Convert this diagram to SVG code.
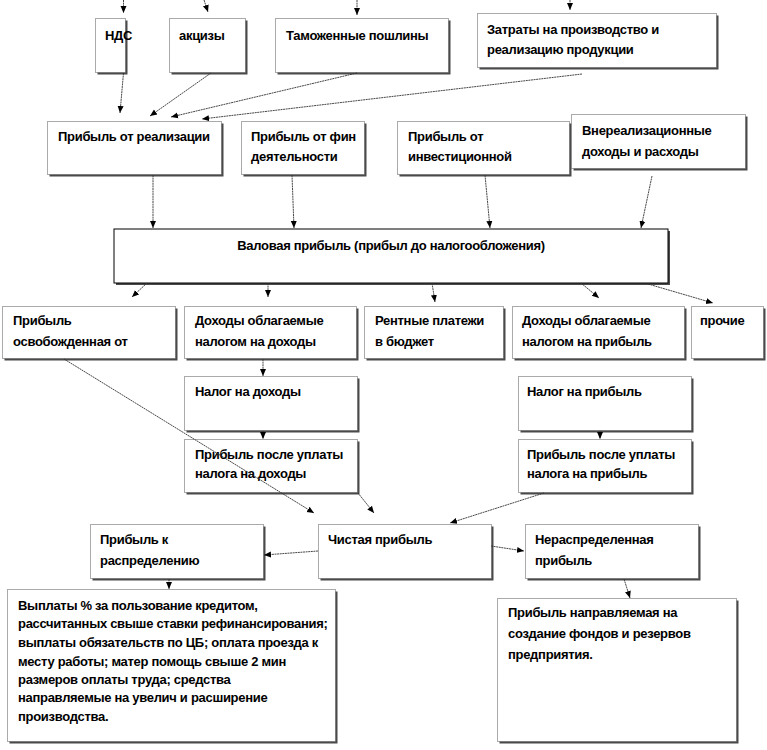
<svg xmlns="http://www.w3.org/2000/svg" width="767" height="750" viewBox="0 0 767 750">
<style>
.sh{fill:#4a4a4a}
.bx{fill:#fff;stroke:#555;stroke-width:1;stroke-dasharray:1 1}
.t{font-family:"Liberation Sans",Arial,sans-serif;font-size:13px;font-weight:bold;fill:#000;letter-spacing:-0.3px}
.c line{stroke:#333;stroke-width:0.9;stroke-dasharray:2 0.6}
</style>
<defs>
<marker id="a" markerWidth="8" markerHeight="8" refX="7" refY="4" orient="auto" markerUnits="userSpaceOnUse">
<path d="M0,1 L7,4 L0,7 Z" fill="#000"/>
</marker>
</defs>
<rect width="767" height="750" fill="#fff"/>

<g id="n-nds"><rect class="sh" x="97.5" y="20.5" width="30" height="54"/><rect class="bx" x="95.5" y="18.5" width="30" height="54"/><text class="t" x="105" y="39.5">НДС</text></g>
<g id="n-akcizy"><rect class="sh" x="171.5" y="20.5" width="76" height="54"/><rect class="bx" x="169.5" y="18.5" width="76" height="54"/><text class="t" x="179" y="39.5">акцизы</text></g>
<g id="n-tam"><rect class="sh" x="277.5" y="20.5" width="173" height="54"/><rect class="bx" x="275.5" y="18.5" width="173" height="54"/><text class="t" x="286" y="39.5">Таможенные пошлины</text></g>
<g id="n-zatr"><rect class="sh" x="479.5" y="15.5" width="239" height="54"/><rect class="bx" x="477.5" y="13.5" width="239" height="54"/><text class="t" x="487" y="33.5">Затраты на производство и</text><text class="t" x="487" y="53.5">реализацию продукции</text></g>

<g id="n-real"><rect class="sh" x="49.5" y="123.5" width="174" height="53"/><rect class="bx" x="47.5" y="121.5" width="174" height="53"/><text class="t" x="58" y="140.5">Прибыль от реализации</text></g>
<g id="n-fin"><rect class="sh" x="243.5" y="123.5" width="123" height="53"/><rect class="bx" x="241.5" y="121.5" width="123" height="53"/><text class="t" x="251" y="140.5">Прибыль от фин</text><text class="t" x="251" y="161">деятельности</text></g>
<g id="n-inv"><rect class="sh" x="399.5" y="123.5" width="172" height="53"/><rect class="bx" x="397.5" y="121.5" width="172" height="53"/><text class="t" x="408" y="140.5">Прибыль от</text><text class="t" x="408" y="161">инвестиционной</text></g>
<g id="n-vnereal"><rect class="sh" x="573.5" y="116.5" width="174" height="54"/><rect class="bx" x="571.5" y="114.5" width="174" height="54"/><text class="t" x="582" y="134.5">Внереализационные</text><text class="t" x="582" y="156">доходы и расходы</text></g>

<g id="n-val"><rect class="sh" x="116" y="231" width="554" height="54"/><rect class="bx" x="114" y="229" width="554" height="54" style="stroke:#000;stroke-dasharray:none"/><text class="t" x="391" y="249.5" text-anchor="middle">Валовая прибыль (прибыл до налогообложения)</text></g>

<g id="n-osv"><rect class="sh" x="4.5" y="308.5" width="173" height="52"/><rect class="bx" x="2.5" y="306.5" width="173" height="52"/><text class="t" x="13" y="324.5">Прибыль</text><text class="t" x="13" y="346">освобожденная от</text></g>
<g id="n-dohod"><rect class="sh" x="186.5" y="308.5" width="172" height="52"/><rect class="bx" x="184.5" y="306.5" width="172" height="52"/><text class="t" x="195" y="324.5">Доходы облагаемые</text><text class="t" x="195" y="346">налогом на доходы</text></g>
<g id="n-rent"><rect class="sh" x="366.5" y="308.5" width="139" height="52"/><rect class="bx" x="364.5" y="306.5" width="139" height="52"/><text class="t" x="375" y="324.5">Рентные платежи</text><text class="t" x="375" y="346">в бюджет</text></g>
<g id="n-dohpr"><rect class="sh" x="514.5" y="308.5" width="172" height="52"/><rect class="bx" x="512.5" y="306.5" width="172" height="52"/><text class="t" x="522" y="324.5">Доходы облагаемые</text><text class="t" x="522" y="346">налогом на прибыль</text></g>
<g id="n-proch"><rect class="sh" x="693.5" y="308.5" width="72" height="52"/><rect class="bx" x="691.5" y="306.5" width="72" height="52"/><text class="t" x="700" y="324.5">прочие</text></g>

<g id="n-nalD"><rect class="sh" x="186.5" y="378.5" width="173" height="54"/><rect class="bx" x="184.5" y="376.5" width="173" height="54"/><text class="t" x="195" y="395.5">Налог на доходы</text></g>
<g id="n-nalP"><rect class="sh" x="520.5" y="378.5" width="173" height="54"/><rect class="bx" x="518.5" y="376.5" width="173" height="54"/><text class="t" x="527" y="395.5">Налог на прибыль</text></g>
<g id="n-posD"><rect class="sh" x="186.5" y="441.5" width="173" height="53"/><rect class="bx" x="184.5" y="439.5" width="173" height="53"/><text class="t" x="195" y="458.5">Прибыль после уплаты</text><text class="t" x="195" y="478">налога на доходы</text></g>
<g id="n-posP"><rect class="sh" x="520.5" y="441.5" width="173" height="53"/><rect class="bx" x="518.5" y="439.5" width="173" height="53"/><text class="t" x="527" y="458.5">Прибыль после уплаты</text><text class="t" x="527" y="478">налога на прибыль</text></g>

<g id="n-krasp"><rect class="sh" x="92.5" y="526.5" width="173" height="54"/><rect class="bx" x="90.5" y="524.5" width="173" height="54"/><text class="t" x="100" y="543.5">Прибыль к</text><text class="t" x="100" y="564.5">распределению</text></g>
<g id="n-chist"><rect class="sh" x="320.5" y="526.5" width="173" height="54"/><rect class="bx" x="318.5" y="524.5" width="173" height="54"/><text class="t" x="328" y="543.5">Чистая прибыль</text></g>
<g id="n-neras"><rect class="sh" x="527.5" y="526.5" width="173" height="54"/><rect class="bx" x="525.5" y="524.5" width="173" height="54"/><text class="t" x="535" y="543.5">Нераспределенная</text><text class="t" x="535" y="564.5">прибыль</text></g>

<g id="n-vypl"><rect class="sh" x="9.5" y="591.5" width="328" height="152"/><rect class="bx" x="7.5" y="589.5" width="328" height="152"/>
<text class="t" x="18" y="609.5">Выплаты % за  пользование кредитом,</text>
<text class="t" x="18" y="628">рассчитанных свыше ставки рефинансирования;</text>
<text class="t" x="18" y="647">выплаты обязательств по ЦБ; оплата проезда к</text>
<text class="t" x="18" y="665.5">месту работы; матер помощь свыше 2 мин</text>
<text class="t" x="18" y="683.5">размеров оплаты труда; средства</text>
<text class="t" x="18" y="702">направляемые на увелич и расширение</text>
<text class="t" x="18" y="720.5">производства.</text></g>
<g id="n-fond"><rect class="sh" x="499.5" y="600.5" width="239" height="143"/><rect class="bx" x="497.5" y="598.5" width="239" height="143"/>
<text class="t" x="508" y="617">Прибыль направляемая на</text>
<text class="t" x="508" y="638">создание фондов и резервов</text>
<text class="t" x="508" y="658.5">предприятия.</text></g>

<g id="connectors" class="c">
<line x1="123.5" y1="0" x2="123.5" y2="13" marker-end="url(#a)"/>
<line x1="204" y1="0" x2="208" y2="12" marker-end="url(#a)"/>
<line x1="357" y1="0" x2="357" y2="15" marker-end="url(#a)"/>
<line x1="570" y1="0" x2="570" y2="10" marker-end="url(#a)"/>
<line x1="123.5" y1="73" x2="120" y2="113" marker-end="url(#a)"/>
<line x1="211" y1="73" x2="150" y2="116" marker-end="url(#a)"/>
<line x1="357" y1="73" x2="171" y2="117" marker-end="url(#a)"/>
<line x1="582" y1="74" x2="202" y2="119" marker-end="url(#a)"/>
<line x1="153" y1="175" x2="153" y2="228" marker-end="url(#a)"/>
<line x1="292" y1="175" x2="294" y2="228" marker-end="url(#a)"/>
<line x1="485" y1="175" x2="490" y2="228" marker-end="url(#a)"/>
<line x1="652" y1="176" x2="641" y2="228" marker-end="url(#a)"/>
<line x1="147" y1="283" x2="132" y2="297" marker-end="url(#a)"/>
<line x1="268" y1="283" x2="268" y2="297" marker-end="url(#a)"/>
<line x1="432" y1="283" x2="435" y2="302" marker-end="url(#a)"/>
<line x1="581" y1="283" x2="599" y2="298" marker-end="url(#a)"/>
<line x1="648" y1="284" x2="713" y2="303" marker-end="url(#a)"/>
<line x1="263" y1="359" x2="263" y2="376" marker-end="url(#a)"/>
<line x1="263" y1="431" x2="263" y2="439" marker-end="url(#a)"/>
<line x1="600" y1="431" x2="600" y2="439" marker-end="url(#a)"/>
<line x1="64" y1="359" x2="314" y2="513" marker-end="url(#a)"/>
<line x1="358" y1="493" x2="374" y2="513" marker-end="url(#a)"/>
<line x1="544" y1="493" x2="450" y2="523" marker-end="url(#a)"/>
<line x1="318" y1="551" x2="264" y2="555" marker-end="url(#a)"/>
<line x1="491" y1="546" x2="524" y2="551" marker-end="url(#a)"/>
<line x1="169" y1="579" x2="169" y2="589" marker-end="url(#a)"/>
<line x1="624" y1="579" x2="630" y2="598" marker-end="url(#a)"/>
</g>
</svg>
